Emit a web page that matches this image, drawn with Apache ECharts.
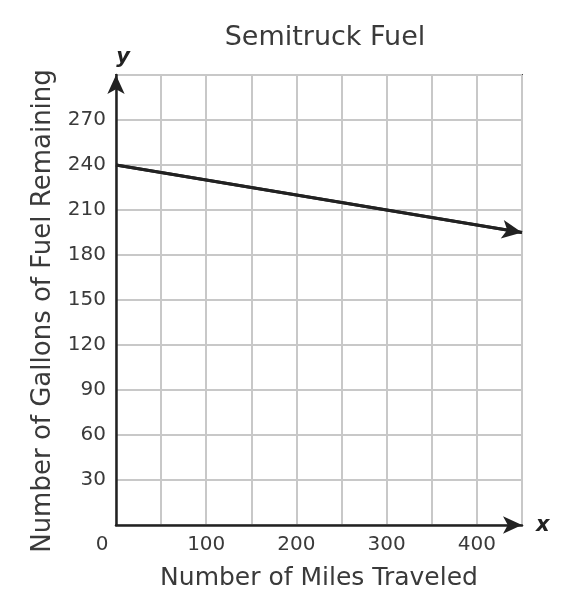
<!DOCTYPE html>
<html><head><meta charset="utf-8">
<script src="https://cdn.jsdelivr.net/npm/echarts@6/dist/echarts.min.js"></script>
<style>html,body{margin:0;padding:0;background:#fff}#c{width:567px;height:612px}</style>
</head><body><div id="c"></div>
<script>
const milesPoints = [0, 450];
const gallonsPoints = [240, 195];
const xTickLabels = [100, 200, 300, 400];
const yTickLabels = [30, 60, 90, 120, 150, 180, 210, 240, 270];
const titleText = 'Semitruck Fuel';
const xName = 'Number of Miles Traveled';
const yName = 'Number of Gallons of Fuel Remaining';

const FONT = 'DejaVu Sans';
const chart = echarts.init(document.getElementById('c'), null, {renderer: 'canvas'});
const lineData = milesPoints.map((m, i) => [m, gallonsPoints[i]]);
chart.setOption({
  backgroundColor: '#fff',
  animation: false,
  title: [
    {text: titleText, left: 320, top: 19, textAlign: 'center',
     textStyle: {fontFamily: FONT, fontSize: 27, fontWeight: 'normal', color: '#3a3a3a'}},
    {text: 'y', left: 118, top: 42, textAlign: 'center',
     textStyle: {fontFamily: FONT, fontSize: 21, fontWeight: 'bold', fontStyle: 'italic', color: '#222'}},
    {text: 'x', left: 531, top: 510,
     textStyle: {fontFamily: FONT, fontSize: 21, fontWeight: 'bold', fontStyle: 'italic', color: '#222'}}
  ],
  grid: {left: 116, top: 75, width: 406, height: 450, show: true, borderColor: '#444', borderWidth: 2, backgroundColor: 'transparent'},
  xAxis: {
    type: 'value', min: 0, max: 450, interval: 50,
    name: xName, nameLocation: 'middle', nameGap: 41,
    nameTextStyle: {fontFamily: FONT, fontSize: 25, color: '#3a3a3a'},
    axisLine: {show: true, onZero: false, symbol: ['none', 'arrow'], symbolSize: [13, 19],
      lineStyle: {color: '#222', width: 2.5}},
    axisTick: {show: false},
    splitLine: {show: true, lineStyle: {color: '#c8c8c8', width: 2}},
    axisLabel: {
      fontFamily: FONT, fontSize: 20, color: '#3a3a3a', margin: 10, showMaxLabel: true,
      formatter: v => v === 0 ? '{o|0}' : (xTickLabels.includes(v) ? String(v) : ''),
      rich: {o: {fontFamily: FONT, fontSize: 20, color: '#3a3a3a', padding: [0, 28, 0, 0]}}
    }
  },
  yAxis: {
    type: 'value', min: 0, max: 300, interval: 30,
    name: yName, nameLocation: 'middle', nameGap: 60, nameRotate: 90,
    nameTextStyle: {fontFamily: FONT, fontSize: 26, color: '#3a3a3a', padding: [0, 22, 0, 0]},
    axisLine: {show: true, onZero: false, symbol: ['none', 'arrow'], symbolSize: [13, 19],
      lineStyle: {color: '#222', width: 2.5}},
    axisTick: {show: false},
    splitLine: {show: true, lineStyle: {color: '#c8c8c8', width: 2}},
    axisLabel: {
      fontFamily: FONT, fontSize: 20, color: '#3a3a3a', margin: 10,
      formatter: v => yTickLabels.includes(v) ? String(v) : ''
    }
  },
  series: [{
    type: 'line', data: lineData, symbol: 'none', silent: true,
    lineStyle: {color: '#222', width: 3},
    markLine: {
      silent: true, symbol: ['none', 'arrow'], symbolSize: [14, 20], label: {show: false},
      lineStyle: {color: '#222', width: 3, type: 'solid'},
      data: [[{coord: lineData[0]}, {coord: lineData[lineData.length - 1]}]]
    }
  }]
});
</script></body></html>
